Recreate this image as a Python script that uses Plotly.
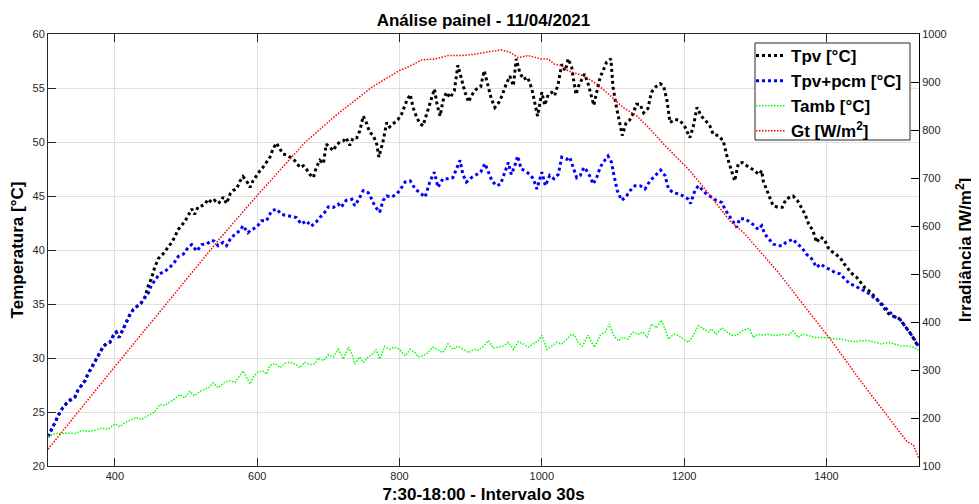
import plotly.graph_objects as go

# ---------------- data ----------------
tpv_x = [306, 311, 318, 323, 327, 332, 339, 344, 348, 353, 358, 362, 367, 372, 377, 384, 388, 393, 398, 402,
         406, 412, 416, 421, 426, 433, 437, 442, 447, 451, 456, 461, 466, 470, 475, 480, 484, 489, 494, 498,
         503, 508, 512, 517, 522, 526, 531, 536, 540, 545, 550, 552, 557, 562, 566, 571, 576, 580, 585, 590,
         594, 599, 604, 608, 613, 618, 622, 627, 632, 636, 641, 646, 651, 655, 660, 665, 669, 674, 679, 683,
         688, 693, 697, 702, 707, 711, 716, 721, 725, 730, 735, 740, 744, 749, 754, 758, 763, 768, 771, 777,
         782, 786, 791, 798, 803, 810, 815, 819, 824, 829, 833, 838, 843, 849, 853, 857, 861, 866, 871, 877,
         882, 887, 892, 897, 901, 908, 914, 919, 924, 929, 934, 940, 944, 950, 955, 960, 964, 969, 974, 980,
         986, 990, 994, 1000, 1004, 1009, 1014, 1018, 1023, 1028, 1033, 1037, 1042, 1044, 1048, 1051, 1056,
         1060, 1065, 1070, 1073, 1077, 1082, 1086, 1091, 1097, 1100, 1104, 1109, 1113, 1118, 1123, 1128, 1133,
         1138, 1143, 1149, 1154, 1160, 1166, 1171, 1176, 1180, 1187, 1194, 1201, 1208, 1213, 1218, 1224, 1230,
         1236, 1241, 1248, 1255, 1260, 1265, 1271, 1276, 1282, 1288, 1292, 1299, 1305, 1309, 1311, 1316, 1320,
         1325, 1332, 1338, 1343, 1349, 1353, 1359, 1365, 1370, 1375, 1381, 1386, 1391, 1397, 1402, 1407, 1413,
         1419, 1425, 1431, 1436, 1442, 1448, 1454, 1460, 1466, 1473, 1480, 1486, 1491, 1499, 1503, 1508, 1513,
         1520, 1524, 1529]
tpv_y = [22.7, 23.4, 24.35, 25.0, 25.4, 25.8, 26.2, 26.4, 27.0, 27.4, 27.9, 28.5, 29.1, 29.6, 30.2, 31.1, 31.3,
         31.45, 32.1, 32.4, 31.9, 32.7, 33.3, 34.0, 34.5, 34.85, 35.1, 35.6, 36.7, 37.3, 38.4, 39.2, 39.5, 39.8,
         40.3, 40.7, 41.2, 41.9, 42.3, 42.6, 43.2, 43.8, 43.3, 44.0, 44.1, 44.2, 44.7, 44.4, 44.6, 44.3, 44.6,
         44.9, 44.3, 45.2, 45.5, 45.65, 46.4, 46.8, 46.4, 45.8, 46.4, 46.9, 47.35, 47.65, 48.1, 48.6, 49.35, 49.9,
         49.35, 48.9, 48.8, 48.6, 48.4, 48.1, 47.65, 47.8, 47.5, 47.0, 46.7, 47.65, 48.3, 48.0, 49.8, 49.5, 49.2,
         49.7, 50.0, 50.1, 50.4, 49.7, 50.4, 50.4, 51.0, 52.4, 51.7, 50.9, 50.6, 49.8, 48.6, 50.1, 51.8, 51.4,
         51.7, 52.1, 52.6, 53.8, 54.4, 53.2, 52.3, 51.7, 51.5, 52.6, 53.8, 54.9, 53.4, 52.4, 53.8, 54.6, 54.1,
         54.75, 57.1, 55.7, 54.6, 53.7, 54.3, 54.9, 55.1, 56.6, 55.2, 54.0, 53.2, 53.7, 54.3, 55.4, 56.1, 55.2,
         57.7, 56.45, 55.8, 56.0, 54.9, 53.5, 52.4, 54.6, 53.4, 54.4, 54.6, 54.3, 55.4, 57.2, 56.6, 57.7, 56.9,
         56.0, 54.4, 55.1, 55.7, 56.3, 55.4, 54.1, 53.4, 54.6, 56.0, 56.6, 57.4, 57.7, 55.1, 53.5, 52.0, 50.6,
         51.7, 52.0, 52.6, 53.5, 53.5, 52.7, 53.1, 54.6, 55.1, 55.4, 55.2, 53.8, 51.8, 52.1, 52.0, 51.4, 50.4,
         51.5, 53.2, 52.4, 52.0, 51.5, 50.7, 50.6, 50.1, 48.7, 47.65, 46.4, 48.0, 48.1, 47.8, 47.65, 47.35, 47.0,
         47.35, 46.4, 45.5, 44.9, 44.1, 43.95, 43.95, 44.7, 44.9, 45.0, 44.6, 43.95, 43.3, 42.4, 41.8, 40.7,
         41.2, 41.0, 40.25, 39.9, 39.6, 39.3, 38.7, 38.2, 37.8, 37.5, 37.0, 36.5, 36.2, 35.8, 35.3, 34.7, 34.2,
         33.9, 33.8, 33.6, 33.15, 32.7, 32.1, 31.6, 31.1]

pcm_x = [306, 311, 318, 323, 327, 332, 339, 344, 348, 353, 358, 362, 367, 372, 377, 384, 388, 393, 398, 402,
         406, 412, 416, 421, 426, 433, 437, 442, 447, 451, 456, 463, 470, 477, 482, 489, 496, 503, 508, 515,
         522, 529, 536, 540, 545, 552, 557, 562, 569, 576, 580, 587, 592, 599, 606, 613, 620, 627, 634, 641,
         648, 655, 662, 669, 676, 683, 688, 695, 700, 707, 714, 718, 725, 733, 737, 742, 749, 756, 761, 765,
         772, 777, 782, 789, 796, 800, 808, 815, 822, 829, 836, 843, 849, 854, 861, 868, 875, 880, 885, 889,
         894, 901, 908, 914, 920, 925, 930, 936, 942, 948, 953, 957, 962, 966, 971, 976, 983, 988, 993, 1000,
         1005, 1011, 1017, 1023, 1028, 1035, 1039, 1044, 1049, 1054, 1059, 1063, 1067, 1072, 1077, 1082, 1086,
         1093, 1098, 1101, 1106, 1112, 1118, 1124, 1131, 1138, 1145, 1152, 1159, 1167, 1173, 1178, 1185, 1192,
         1199, 1206, 1209, 1215, 1220, 1226, 1231, 1238, 1245, 1253, 1257, 1263, 1269, 1274, 1278, 1285, 1292,
         1299, 1304, 1309, 1313, 1319, 1325, 1332, 1338, 1343, 1349, 1353, 1359, 1365, 1372, 1379, 1386, 1392,
         1398, 1405, 1412, 1419, 1426, 1433, 1440, 1447, 1454, 1461, 1468, 1475, 1482, 1489, 1496, 1503, 1508,
         1515, 1522, 1529]
pcm_y = [22.7, 23.4, 24.35, 25.0, 25.4, 25.8, 26.2, 26.4, 27.0, 27.4, 27.9, 28.5, 29.1, 29.6, 30.2, 31.1, 31.3,
         31.45, 32.1, 32.4, 31.9, 32.7, 33.3, 34.0, 34.5, 34.85, 35.1, 35.6, 36.0, 36.7, 37.2, 37.8, 38.0, 38.4,
         38.7, 39.4, 39.6, 40.25, 40.5, 39.9, 40.5, 40.55, 40.9, 40.8, 40.4, 40.7, 40.4, 41.0, 41.5, 41.8, 42.25,
         41.6, 41.9, 42.1, 42.7, 42.7, 43.6, 43.8, 43.3, 43.2, 43.1, 43.0, 42.4, 42.7, 42.2, 42.6, 43.0, 43.5,
         44.0, 43.95, 44.25, 43.95, 44.6, 44.7, 44.1, 44.6, 45.5, 45.3, 44.7, 44.1, 43.5, 44.6, 45.0, 44.9, 45.2,
         45.5, 46.3, 46.4, 45.65, 45.3, 44.9, 46.4, 47.2, 45.8, 46.6, 46.6, 46.7, 47.5, 48.3, 47.0, 46.3, 46.7,
         47.0, 47.2, 48.0, 47.2, 46.4, 45.95, 46.1, 47.2, 48.1, 47.0, 47.8, 48.7, 47.5, 47.35, 47.0, 46.6, 45.65,
         47.2, 45.95, 46.9, 46.6, 47.0, 48.6, 48.4, 48.6, 47.65, 46.7, 46.9, 47.65, 47.35, 46.9, 46.1, 46.7,
         47.65, 48.1, 48.7, 48.1, 47.0, 45.5, 44.6, 44.9, 45.5, 45.95, 45.95, 45.65, 46.4, 46.9, 47.4, 46.9,
         45.65, 45.3, 45.2, 45.0, 44.7, 44.3, 45.5, 45.95, 45.5, 45.2, 44.9, 44.6, 44.4, 43.8, 43.2, 42.6, 42.1,
         42.9, 42.9, 42.6, 42.25, 41.9, 42.25, 41.5, 41.0, 40.55, 40.4, 40.4, 40.7, 40.85, 41.0, 40.55, 40.25,
         39.6, 39.2, 38.4, 38.7, 38.4, 38.2, 37.9, 37.8, 37.3, 36.85, 36.7, 36.4, 36.2, 35.9, 35.5, 35.2, 34.7,
         34.2, 33.8, 33.6, 33.15, 32.5, 31.9, 31.1]

tamb_x = [306, 316, 325, 334, 344, 353, 362, 372, 381, 391, 400, 407, 414, 423, 430, 437, 447, 456, 463, 470,
          477, 484, 491, 498, 505, 512, 519, 526, 533, 538, 545, 554, 562, 569, 576, 580, 585, 590, 594, 601,
          608, 613, 618, 625, 632, 639, 646, 653, 660, 667, 674, 681, 686, 693, 700, 707, 714, 721, 728, 733,
          737, 744, 749, 756, 763, 767, 772, 779, 786, 793, 800, 808, 815, 822, 826, 833, 840, 847, 854, 861,
          868, 875, 882, 889, 897, 904, 911, 918, 925, 932, 939, 946, 953, 960, 967, 974, 981, 988, 995, 1000,
          1007, 1014, 1021, 1028, 1035, 1042, 1046, 1051, 1057, 1065, 1070, 1074, 1082, 1089, 1095, 1100, 1107,
          1114, 1121, 1128, 1135, 1142, 1148, 1154, 1161, 1168, 1173, 1178, 1185, 1192, 1199, 1206, 1213, 1220,
          1227, 1234, 1238, 1245, 1253, 1260, 1267, 1274, 1281, 1288, 1292, 1297, 1304, 1311, 1318, 1325, 1332,
          1339, 1346, 1353, 1360, 1367, 1374, 1384, 1393, 1402, 1412, 1421, 1431, 1440, 1449, 1459, 1468, 1477,
          1487, 1496, 1506, 1515, 1522, 1529]
tamb_y = [22.7, 23.0, 23.0, 23.05, 23.0, 23.3, 23.2, 23.3, 23.5, 23.4, 23.9, 23.65, 24.0, 24.3, 24.5, 24.3,
          24.7, 25.0, 25.7, 25.6, 25.9, 26.2, 26.6, 26.3, 26.9, 26.5, 26.9, 27.1, 27.3, 27.7, 27.25, 27.75, 27.9,
          27.75, 28.4, 28.8, 28.2, 27.6, 28.2, 28.7, 28.8, 28.5, 29.3, 29.5, 29.1, 29.5, 29.6, 29.45, 29.1, 29.6,
          29.4, 29.45, 30.0, 29.75, 30.3, 30.1, 30.8, 29.9, 31.0, 30.4, 29.45, 30.1, 29.6, 30.1, 30.4, 30.8, 29.9,
          31.05, 30.8, 31.0, 30.8, 30.2, 30.8, 30.5, 30.1, 30.2, 30.5, 31.0, 30.75, 30.5, 31.3, 30.8, 31.1, 30.8,
          30.5, 30.8, 30.75, 31.1, 31.6, 30.9, 31.0, 31.1, 31.45, 30.8, 31.5, 31.3, 31.0, 31.3, 31.6, 32.1, 30.8,
          31.1, 31.45, 31.3, 31.75, 32.2, 32.1, 31.45, 31.1, 32.1, 31.45, 31.0, 32.1, 32.4, 33.15, 32.2, 31.6,
          31.9, 31.75, 32.4, 32.2, 32.4, 31.9, 33.15, 32.8, 33.5, 32.7, 31.75, 32.2, 32.1, 31.75, 31.45, 32.1,
          33.0, 32.7, 32.4, 32.7, 32.2, 32.8, 32.4, 32.1, 32.1, 32.5, 32.7, 32.7, 31.9, 32.2, 32.1, 32.2, 32.1,
          32.1, 32.2, 32.1, 32.5, 31.9, 32.2, 32.1, 31.9, 31.9, 31.9, 31.75, 31.75, 31.6, 31.5, 31.6, 31.6,
          31.45, 31.3, 31.45, 31.3, 31.1, 31.1, 31.0, 30.75]

gt_x = [306, 348, 395, 442, 489, 536, 547, 599, 667, 711, 761, 800, 812, 831, 850, 868, 887, 906, 925, 943,
        955, 967, 981, 999, 1009, 1018, 1028, 1037, 1058, 1077, 1096, 1114, 1133, 1152, 1171, 1189, 1208, 1227,
        1245, 1264, 1283, 1332, 1379, 1405, 1449, 1489, 1513, 1522, 1530]
gt_y = [135, 213, 298, 383, 469, 554, 573, 662, 774, 831, 889, 924, 931, 946, 948, 955, 955, 958, 962, 967,
        962, 951, 955, 948, 948, 937, 934, 923, 913, 896, 872, 847, 830, 802, 771, 743, 715, 681, 646, 611,
        587, 504, 414, 365, 275, 196, 151, 144, 115]

x_ticks = [400, 600, 800, 1000, 1200, 1400]
y_left_ticks = [20, 25, 30, 35, 40, 45, 50, 55, 60]
y_right_ticks = [100, 200, 300, 400, 500, 600, 700, 800, 900, 1000]

# ---------------- figure ----------------
FONT = "Liberation Sans, Arial, Helvetica, sans-serif"
AX = "#262626"
W, H = 971, 496  # page body keeps an 8px margin
ML, MR, MT, MB = 40, 60, 26, 38
PW, PH = W - ML - MR, H - MT - MB


def px_x(page_x):
    """page pixel -> paper x"""
    return (page_x - 8 - ML) / PW


def px_y(page_y):
    """page pixel -> paper y"""
    return (H - MB - (page_y - 8)) / PH


fig = go.Figure()
fig.add_trace(go.Scatter(x=tpv_x, y=tpv_y, mode="lines", name="Tpv [°C]",
                         line=dict(color="#000000", width=3, dash="3px,3px")))
fig.add_trace(go.Scatter(x=pcm_x, y=pcm_y, mode="lines", name="Tpv+pcm [°C]",
                         line=dict(color="#0000ff", width=3, dash="3px,3px")))
fig.add_trace(go.Scatter(x=tamb_x, y=tamb_y, mode="lines", name="Tamb [°C]",
                         line=dict(color="#00ff00", width=1.5, dash="1.5px,1.5px")))
fig.add_trace(go.Scatter(x=gt_x, y=gt_y, mode="lines", name="Gt [W/m<sup>2</sup>]", yaxis="y2",
                         line=dict(color="#ff0000", width=1.5, dash="1.5px,1.5px")))

# legend box (white, bordered) drawn as a shape; legend entries sit on top of it
fig.add_shape(type="rect", xref="paper", yref="paper", layer="above",
              x0=px_x(755), x1=px_x(910), y0=px_y(140), y1=px_y(43),
              fillcolor="white", line=dict(color=AX, width=1))

fig.update_layout(
    width=W, height=H,
    margin=dict(l=ML, r=MR, t=MT, b=MB),
    paper_bgcolor="white", plot_bgcolor="white",
    font=dict(family=FONT, color=AX),
    title=dict(text="Análise painel - 11/04/2021", x=(ML + W - MR) / 2 / W, xanchor="center",
               y=1 - 12.5 / H, yanchor="middle", yref="container",
               font=dict(size=17, weight="bold", color="#000000")),
    xaxis=dict(range=[306, 1530], tickvals=x_ticks, ticks="inside", ticklen=8, tickcolor=AX,
               showline=True, linecolor=AX, linewidth=1, mirror="ticks",
               showgrid=True, gridcolor="#dfdfdf", gridwidth=1, zeroline=False,
               tickfont=dict(size=11, color=AX), automargin=False,
               title=dict(text="7:30-18:00 - Intervalo 30s", standoff=10,
                          font=dict(size=17, weight="bold", color="#000000"))),
    yaxis=dict(range=[20, 60], tickvals=y_left_ticks, ticks="inside", ticklen=8, tickcolor=AX,
               showline=True, linecolor=AX, linewidth=1,
               showgrid=True, gridcolor="#dfdfdf", gridwidth=1, zeroline=False,
               tickfont=dict(size=11, color=AX), automargin=False,
               title=dict(text="Temperatura [°C]", standoff=6,
                          font=dict(size=17, weight="bold", color="#000000"))),
    yaxis2=dict(range=[100, 1000], tickvals=y_right_ticks, ticks="inside", ticklen=8, tickcolor="#000000",
                overlaying="y", side="right", anchor="x",
                showline=True, linecolor="#000000", linewidth=1,
                showgrid=False, zeroline=False,
                tickfont=dict(size=11, color=AX), automargin=False,
                title=dict(text="Irradiância [W/m<sup>2</sup>]", standoff=13,
                           font=dict(size=17, weight="bold", color="#000000"))),
    legend=dict(x=px_x(751), xanchor="left", y=px_y(38), yanchor="top",
                bgcolor="rgba(0,0,0,0)", borderwidth=0,
                font=dict(size=17, weight="bold", color="#000000"),
                itemwidth=30, tracegroupgap=0),
    showlegend=True,
)

fig.write_html("out.html")
